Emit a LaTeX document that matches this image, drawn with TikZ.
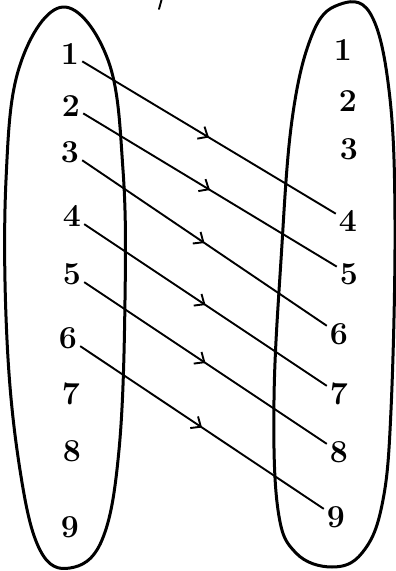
\documentclass[tikz,border=0pt]{standalone}
\usetikzlibrary{arrows.meta,decorations.markings}
\begin{document}
\begin{tikzpicture}[x=1pt,y=-1pt,
 oval/.style={line width=3pt, line join=round},
 lbl/.style={font=\fontsize{32}{32}\selectfont\bfseries, inner sep=3pt},
 mapline/.style={line width=1.9pt, postaction={decorate},
   decoration={markings, mark=at position 0.5 with {\arrow{Straight Barb[length=8pt,width=14pt,line width=1.9pt]}}}}]
\useasboundingbox (0,0) rectangle (396,571);
% left oval
\draw[oval] plot[smooth cycle, tension=0.65] coordinates {
 (63,7) (108,60) (123,170) (125,300) (119,450) (102,540) (70,568) (40,550) (20,470) (7,340) (6,180) (20,65)};
% right oval
\draw[oval] plot[smooth cycle, tension=0.65] coordinates {
 (338,5) (370,13) (389,90) (395,220) (391,410) (382,505) (362,553) (332,567) (296,553) (278,510) (274,400) (281,260) (292,120) (312,35)};
% stray mark
\draw[line width=1.9pt, line cap=round] (161.5,0) -- (159,9);
% left labels
\node[lbl] (L1) at (70,54) {1};
\node[lbl] (L2) at (71,106) {2};
\node[lbl] (L3) at (70,152) {3};
\node[lbl] (L4) at (72,216) {4};
\node[lbl] (L5) at (72,274) {5};
\node[lbl] (L6) at (68,338) {6};
\node[lbl] (L7) at (71,394) {7};
\node[lbl] (L8) at (72,451) {8};
\node[lbl] (L9) at (70,527) {9};
% right labels
\node[lbl] (R1) at (343,50) {1};
\node[lbl] (R2) at (348,101) {2};
\node[lbl] (R3) at (349,149) {3};
\node[lbl] (R4) at (348,221) {4};
\node[lbl] (R5) at (349,274) {5};
\node[lbl] (R6) at (339,334) {6};
\node[lbl] (R7) at (339,394) {7};
\node[lbl] (R8) at (339,452) {8};
\node[lbl] (R9) at (336,517) {9};
% mapping lines
\draw[mapline] (L1) -- (R4);
\draw[mapline] (L2) -- (R5);
\draw[mapline] (L3) -- (R6);
\draw[mapline] (L4) -- (R7);
\draw[mapline] (L5) -- (R8);
\draw[mapline] (L6) -- (R9);
\end{tikzpicture}
\end{document}
